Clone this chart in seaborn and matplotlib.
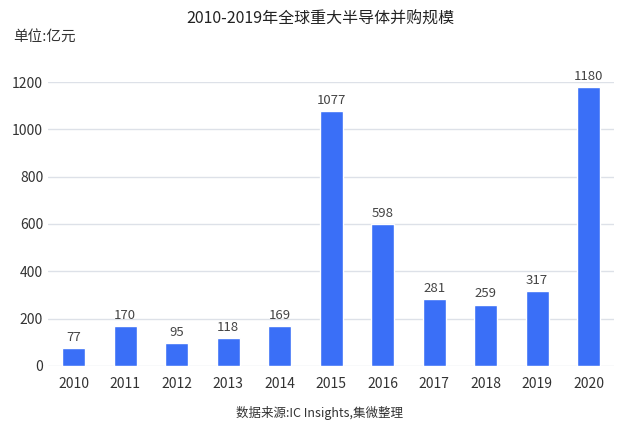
import matplotlib
matplotlib.use("Agg")
import matplotlib.pyplot as plt
import seaborn as sns
import pandas as pd

years = ["2010", "2011", "2012", "2013", "2014", "2015", "2016", "2017", "2018", "2019", "2020"]
values = [77, 170, 95, 118, 169, 1077, 598, 281, 259, 317, 1180]
title = "2010-2019年全球重大半导体并购规模"
unit = "单位:亿元"
source = "数据来源:IC Insights,集微整理"

sns.set_style("white")
plt.rcParams["font.family"] = ["Noto Sans CJK SC", "DejaVu Sans"]

df = pd.DataFrame({"year": years, "value": values})

fig = plt.figure(figsize=(6.4, 4.32), dpi=100)
ax = fig.add_axes([0.075, 0.153, 0.885, 0.657])
sns.barplot(data=df, x="year", y="value", color="#3a6ff7", saturation=1, width=0.45, ax=ax)

ax.set_ylim(0, 1200)
ax.set_yticks(range(0, 1201, 200))
ax.yaxis.grid(True, color="#dde1e8", linewidth=1)
ax.set_axisbelow(True)
for s in ax.spines.values():
    s.set_visible(False)
ax.set_xlabel("")
ax.set_ylabel("")
ax.tick_params(axis="both", length=0, labelsize=10, colors="#333333")
ax.tick_params(axis="x", pad=8)

for c in ax.containers:
    ax.bar_label(c, labels=[str(v) for v in values], padding=3, fontsize=9.5, color="#444444")

fig.text(0.5, 0.955, title, ha="center", va="center", fontsize=11.5, color="#222222")
fig.text(0.02, 0.915, unit, ha="left", va="center", fontsize=10.5, color="#333333")
fig.text(0.5, 0.045, source, ha="center", va="center", fontsize=9, color="#333333")

fig.savefig("out.png", dpi=100)
